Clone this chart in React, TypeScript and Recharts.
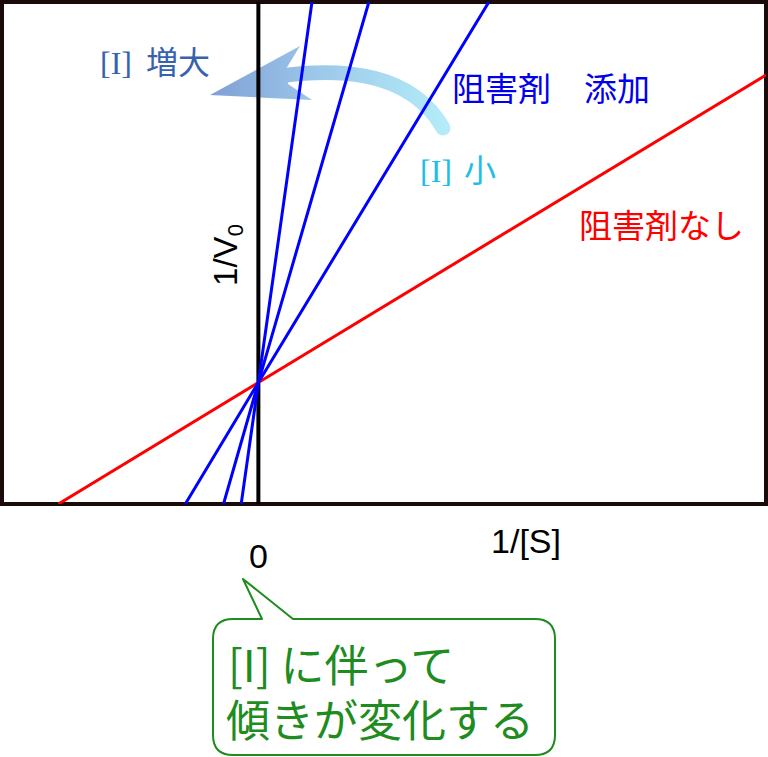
import React from "react";
import {
  ComposedChart,
  Line,
  XAxis,
  YAxis,
  ReferenceLine,
  ReferenceArea,
  Label,
} from "recharts";

// 1/[S] domain and 1/V0 domain (arbitrary units)
const xDomain = [-1, 1.98];
const yDomain = [0, 4.13];
const xTicks = [0];

// Lineweaver-Burk lines: x-intercept, y-intercept, top/right end
const noInhibitorX = [-0.78, 0, 1.98];
const noInhibitorY = [0, 1, 3.53];

const inhibitorLowX = [-0.285, 0, 0.899];
const inhibitorMidX = [-0.136, 0, 0.431];
const inhibitorHighX = [-0.067, 0, 0.209];
const inhibitorY = [0, 1, 4.13];

const toPoints = (xs: number[], ys: number[]) =>
  xs.map((x, i) => ({ x, y: ys[i] }));

const redData = toPoints(noInhibitorX, noInhibitorY);
const blueLow = toPoints(inhibitorLowX, inhibitorY);
const blueMid = toPoints(inhibitorMidX, inhibitorY);
const blueHigh = toPoints(inhibitorHighX, inhibitorY);

const CJK = '"Noto Sans CJK JP", "Noto Sans", sans-serif';
const LAT = '"Liberation Sans", Arial, sans-serif';
const SERIF = '"Liberation Serif", "Times New Roman", serif';
const GREEN = "#1E8C1E";

const Background = () => (
  <svg
    width={768}
    height={757}
    style={{ position: "absolute", left: 0, top: 0 }}
  >
    <defs>
      <linearGradient id="arrowGrad" x1="210" y1="0" x2="450" y2="0" gradientUnits="userSpaceOnUse">
        <stop offset="0" stopColor="#7F9FD5" />
        <stop offset="0.45" stopColor="#9DC8EA" />
        <stop offset="1" stopColor="#B4EDF8" />
      </linearGradient>
    </defs>
    {/* curved arrow */}
    <path
      d="M 280 76 C 345 67, 412 74, 443 128"
      fill="none"
      stroke="url(#arrowGrad)"
      strokeWidth={15}
      strokeLinecap="round"
    />
    <polygon
      points="210,95 300,46 286,69 288,84 312,100"
      fill="url(#arrowGrad)"
    />
    {/* annotations */}
    <text x={100} y={74} fill="#3763AE" fontSize={32}>
      <tspan fontFamily={SERIF}>[I]</tspan>
      <tspan fontFamily={CJK} dx={14}>増大</tspan>
    </text>
    <text x={420} y={182} fill="#22BDE6" fontSize={32}>
      <tspan fontFamily={SERIF}>[I]</tspan>
      <tspan fontFamily={CJK} dx={12}>小</tspan>
    </text>
    <text x={452} y={101} fill="#0000EE" fontSize={33} fontFamily={CJK}>
      阻害剤　添加
    </text>
    <text x={579} y={238} fill="#FF0000" fontSize={33} fontFamily={CJK}>
      阻害剤なし
    </text>
    {/* callout */}
    <path
      d="M 233 619 L 262 619 L 243 579 L 293 619 L 535 619 Q 555 619 555 639 L 555 735 Q 555 755 535 755 L 233 755 Q 213 755 213 735 L 213 639 Q 213 619 233 619 Z"
      fill="#fff"
      stroke={GREEN}
      strokeWidth={2}
      strokeLinejoin="round"
    />
    <text fill={GREEN} fontSize={44} fontFamily={CJK}>
      <tspan x={228} y={682}>[I] に伴って</tspan>
      <tspan x={226} y={737}>傾きが変化する</tspan>
    </text>
  </svg>
);

const ZeroTick = (props: any) => {
  const { x, y, payload } = props;
  return (
    <text
      x={x}
      y={y + 62}
      textAnchor="middle"
      fontSize={34}
      fontFamily={LAT}
      fill="#000"
    >
      {payload.value}
    </text>
  );
};

const XLabel = (props: any) => {
  const vb = props.viewBox || {};
  return (
    <text
      x={(vb.x ?? 2) + 524}
      y={(vb.y ?? 504) + 49}
      textAnchor="middle"
      fontSize={34}
      fontFamily={LAT}
      fill="#000"
    >
      1/[S]
    </text>
  );
};

const YLabel = (props: any) => {
  const vb = props.viewBox || {};
  const bx = (vb.x ?? 258) - 21;
  const cy = 255;
  return (
    <text
      x={bx}
      y={cy}
      transform={`rotate(-90, ${bx}, ${cy})`}
      textAnchor="middle"
      fontSize={33}
      fontFamily={LAT}
      fill="#000"
    >
      1/V
      <tspan fontSize={22} dy={6}>0</tspan>
    </text>
  );
};

export default function App() {
  return (
    <div style={{ position: "absolute", left: 0, top: 0, width: 768, height: 757, background: "#fff" }}>
      <Background />
      <div style={{ position: "absolute", left: 0, top: 0 }}>
        <ComposedChart
          width={768}
          height={757}
          margin={{ top: 2, right: 2, left: 2, bottom: 3 }}
        >
          <XAxis
            type="number"
            dataKey="x"
            domain={xDomain}
            allowDataOverflow
            ticks={xTicks}
            height={250}
            axisLine={false}
            tickLine={false}
            tickSize={0}
            tick={<ZeroTick />}
          >
            <Label content={<XLabel />} />
          </XAxis>
          <YAxis type="number" dataKey="y" domain={yDomain} allowDataOverflow hide />
          <ReferenceArea
            x1={xDomain[0]}
            x2={xDomain[1]}
            y1={yDomain[0]}
            y2={yDomain[1]}
            fill="none"
            stroke="#1A0A0A"
            strokeWidth={4}
            ifOverflow="visible"
          />
          <ReferenceLine x={0} stroke="#000" strokeWidth={4} ifOverflow="visible">
            <Label content={<YLabel />} />
          </ReferenceLine>
          <Line data={redData} dataKey="y" type="linear" stroke="#FF0000" strokeWidth={3} dot={false} activeDot={false} isAnimationActive={false} />
          <Line data={blueLow} dataKey="y" type="linear" stroke="#0000FF" strokeWidth={3} dot={false} activeDot={false} isAnimationActive={false} />
          <Line data={blueMid} dataKey="y" type="linear" stroke="#0000FF" strokeWidth={3} dot={false} activeDot={false} isAnimationActive={false} />
          <Line data={blueHigh} dataKey="y" type="linear" stroke="#0000FF" strokeWidth={3} dot={false} activeDot={false} isAnimationActive={false} />
        </ComposedChart>
      </div>
    </div>
  );
}
